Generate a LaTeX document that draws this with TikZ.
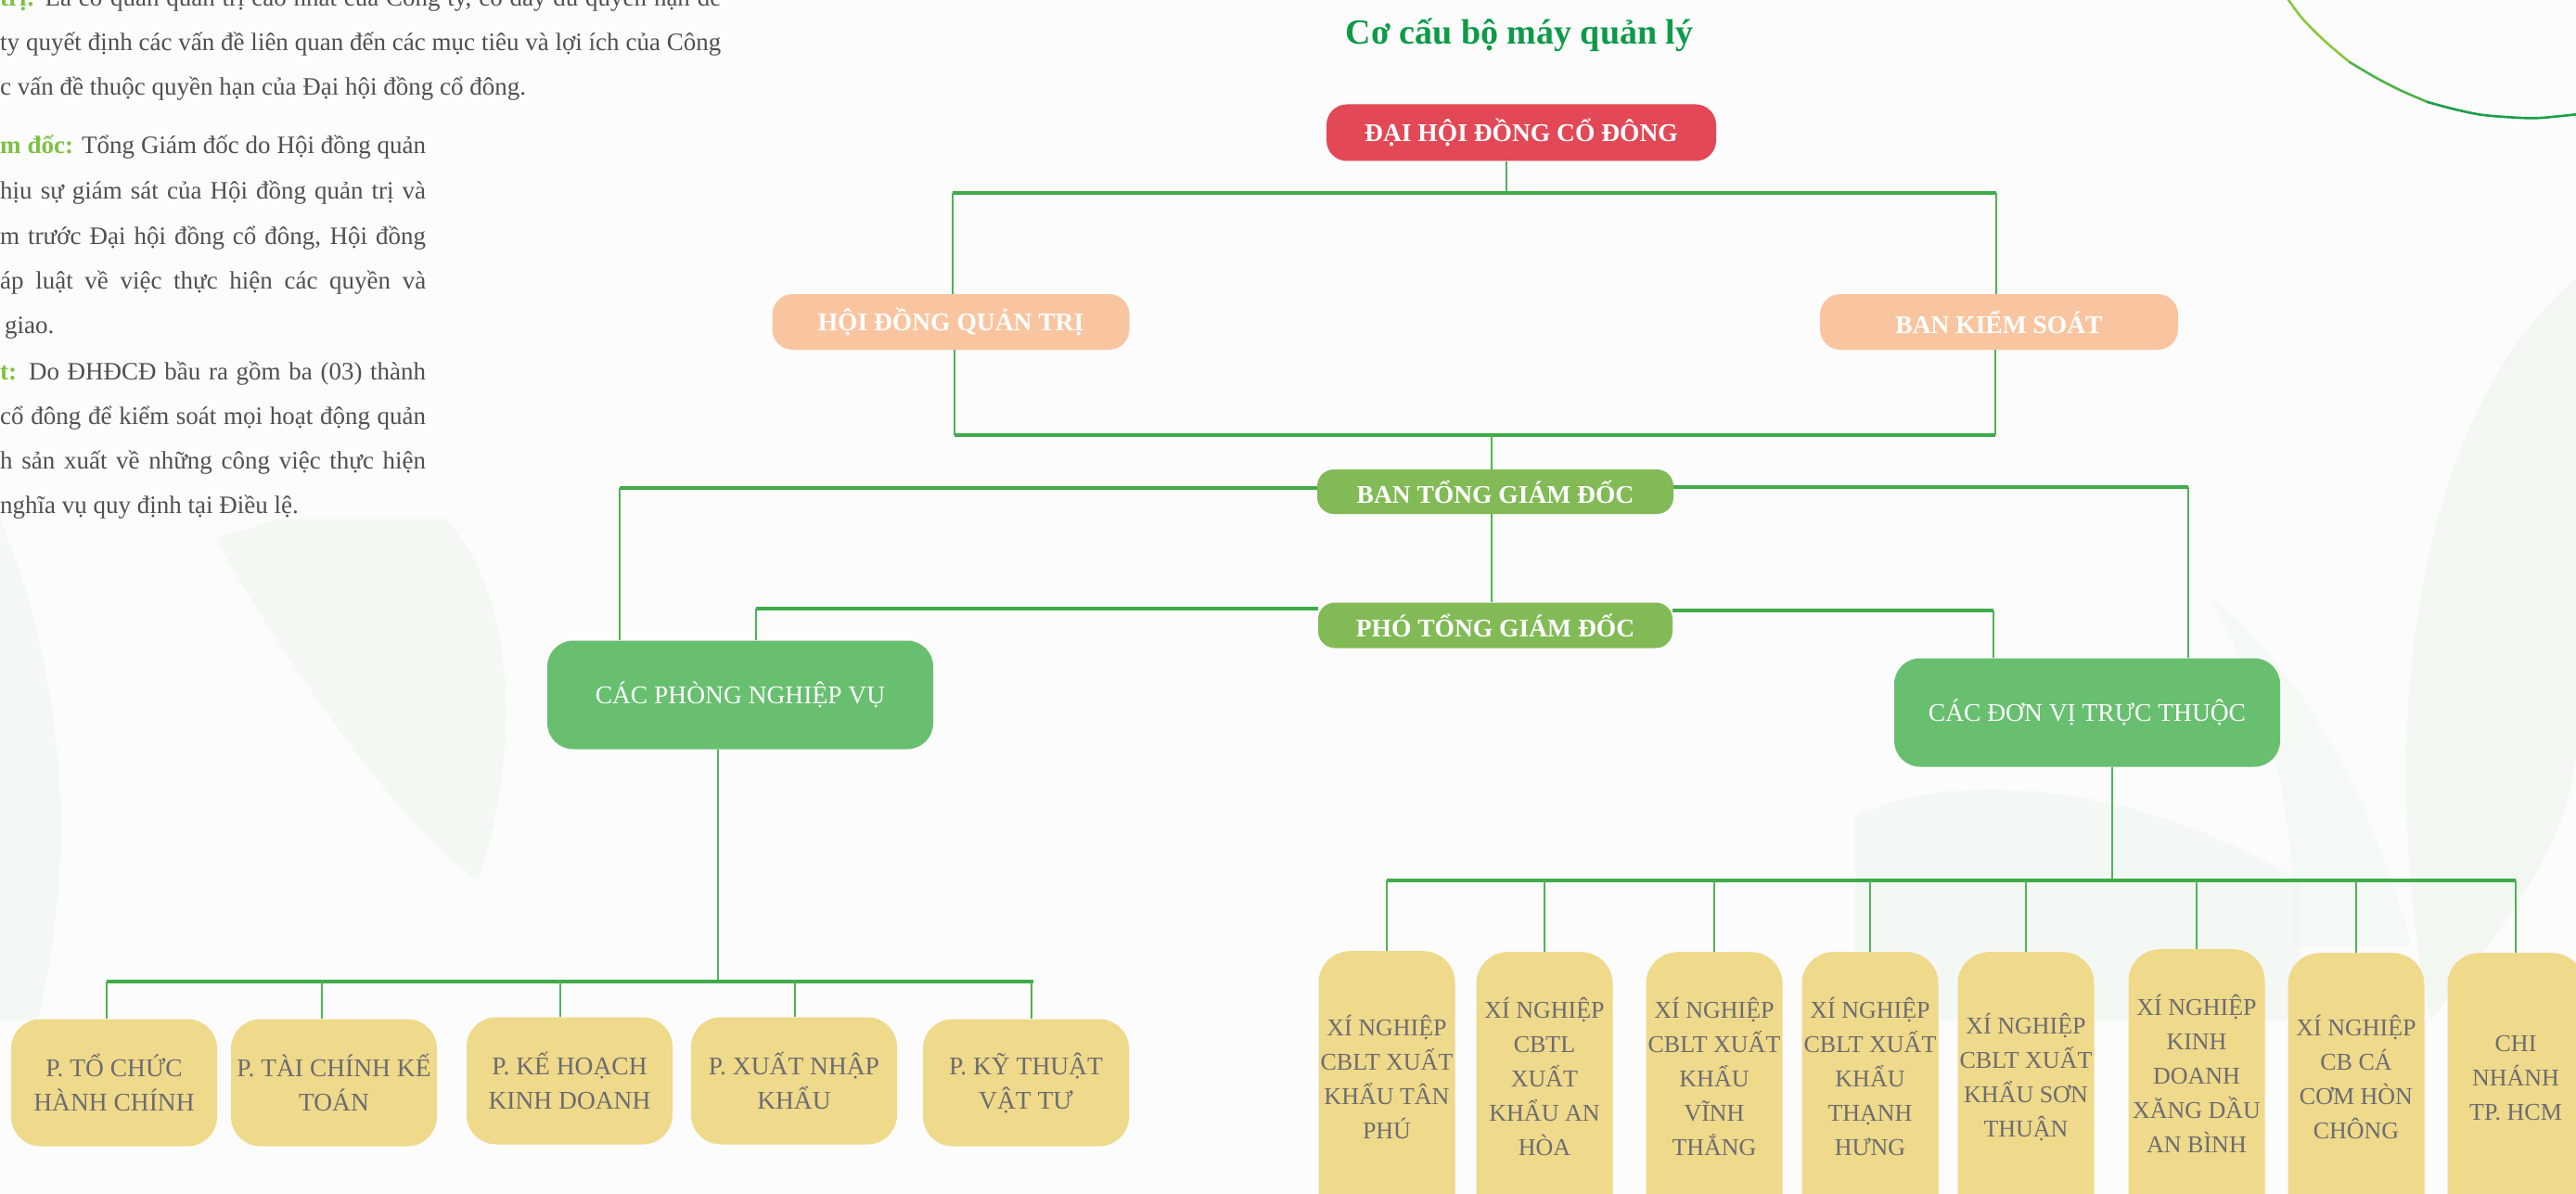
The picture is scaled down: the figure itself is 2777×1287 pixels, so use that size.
\documentclass[tikz,border=0pt]{standalone}
\usepackage{fontspec}
\setmainfont{Liberation Serif}
\usetikzlibrary{calc}
\definecolor{bgc}{HTML}{FBFCFB}
\definecolor{redc}{HTML}{E24856}
\definecolor{peach}{HTML}{F9C5A1}
\definecolor{olive}{HTML}{82BA56}
\definecolor{grn}{HTML}{68BF70}
\definecolor{yel}{HTML}{EFD98A}
\definecolor{gtext}{HTML}{6C6D70}
\definecolor{lnc}{HTML}{3FAB4A}
\definecolor{lnv}{HTML}{4DB555}
\definecolor{ttl}{HTML}{0E9A48}
\definecolor{lbl}{HTML}{7DC142}
\definecolor{ptxt}{HTML}{505050}
\definecolor{leaf}{HTML}{EDF5EC}
\definecolor{arcA}{HTML}{8DC63F}
\definecolor{arcB}{HTML}{4DB348}
\definecolor{arcC}{HTML}{1C9E4A}
\begin{document}
\begin{tikzpicture}[x=1pt,y=-1pt,
  topbox/.style={inner sep=0pt, align=center, text=white, font=\fontsize{27.5pt}{33pt}\selectfont\bfseries},
  midbox/.style={inner sep=0pt, align=center, text=white, fill=grn, rounded corners=28pt,
     minimum width=416pt, minimum height=117pt, font=\fontsize{27.5pt}{33pt}\selectfont},
  pbox/.style={inner sep=0pt, align=center, text=gtext, fill=yel, rounded corners=32pt,
     minimum width=222pt, minimum height=137pt, font=\fontsize{27.5pt}{37pt}\selectfont},
  xbox/.style={inner sep=0pt, fill=yel, rounded corners=34pt, anchor=north,
     minimum width=147pt, minimum height=330pt},
  xtxt/.style={inner sep=0pt, align=center, text=gtext, font=\fontsize{26pt}{37pt}\selectfont},
  ptext/.style={anchor=base west, inner sep=0pt, text=ptxt, font=\fontsize{27pt}{30pt}\selectfont},
  hl/.style={draw=lnc, line width=3.2pt},
  vl/.style={draw=lnv, line width=2pt}
]
\useasboundingbox (0,0) rectangle (2777,1287);
\clip (0,0) rectangle (2777,1287);
\fill[bgc] (0,0) rectangle (2777,1287);

% faint background leaves
\fill[leaf, opacity=0.55] (232,580) .. controls (300,700) and (420,880) .. (515,950)
   .. controls (560,820) and (560,640) .. (480,560) -- (300,560) -- cycle;
\fill[leaf, opacity=0.45] (0,560) .. controls (60,700) and (90,900) .. (40,1100) -- (0,1100) -- cycle;
\fill[leaf, opacity=0.6] (2777,300) .. controls (2600,450) and (2560,800) .. (2620,1100)
   .. controls (2700,1000) and (2777,900) .. (2777,800) -- cycle;
\fill[leaf, opacity=0.45] (2000,880) .. controls (2100,830) and (2300,840) .. (2480,950)
   -- (2480,1100) -- (2000,1100) -- cycle;
\fill[leaf, opacity=0.4] (2380,640) .. controls (2450,760) and (2480,900) .. (2470,1020)
   -- (2600,1020) .. controls (2560,880) and (2500,740) .. (2380,640) -- cycle;

% top-right arc
\draw[arcA, line width=2.6pt, line cap=round] plot[smooth] coordinates {(2465,-3) (2482,20) (2507,45) (2533,67)};
\draw[arcB, line width=2.6pt, line cap=round] plot[smooth] coordinates {(2533,67) (2560,83) (2587,97) (2617,110)};
\draw[arcC, line width=2.6pt, line cap=round] plot[smooth] coordinates {(2617,110) (2647,118) (2677,124) (2717,127) (2740,127) (2780,123)};

% left paragraphs
\node[ptext] (t1) at (0,7) {\makebox[777pt][s]{\textcolor{lbl}{\bfseries trị:} Là cơ quan quản trị cao nhất của Công ty, có đầy đủ quyền hạn để}};
\node[ptext] (t2) at (0,55) {\makebox[777pt][s]{ty quyết định các vấn đề liên quan đến các mục tiêu và lợi ích của Công}};
\node[ptext] (t3) at (0,103) {c vấn đề thuộc quyền hạn của Đại hội đồng cổ đông.};
\node[ptext] (t4) at (0,166) {\makebox[459pt][s]{\textcolor{lbl}{\bfseries m đốc:} Tổng Giám đốc do Hội đồng quản}};
\node[ptext] (t5) at (0,214) {\makebox[459pt][s]{hịu sự giám sát của Hội đồng quản trị và}};
\node[ptext] (t6) at (0,263) {\makebox[459pt][s]{m trước Đại hội đồng cổ đông, Hội đồng}};
\node[ptext] (t7) at (0,311) {\makebox[459pt][s]{áp luật về việc thực hiện các quyền và}};
\node[ptext] (t8) at (5,359) {giao.};
\node[ptext] (t9) at (0,409) {\makebox[459pt][s]{\textcolor{lbl}{\bfseries t:} Do ĐHĐCĐ bầu ra gồm ba (03) thành}};
\node[ptext] (t10) at (0,457) {\makebox[459pt][s]{cổ đông để kiểm soát mọi hoạt động quản}};
\node[ptext] (t11) at (0,505) {\makebox[459pt][s]{h sản xuất về những công việc thực hiện}};
\node[ptext] (t12) at (0,553) {nghĩa vụ quy định tại Điều lệ.};

% title
\node[anchor=base, inner sep=0pt, text=ttl, font=\fontsize{38pt}{42pt}\selectfont\bfseries] (title) at (1638,48) {Cơ cấu bộ máy quản lý};

% top-level boxes
\node[topbox, fill=redc, rounded corners=22pt, minimum width=420pt, minimum height=61pt] (dh) at (1640,143) {ĐẠI HỘI ĐỒNG CỔ ĐÔNG};
\node[topbox, fill=peach, rounded corners=22pt, minimum width=385pt, minimum height=60pt] (hd) at (1025,347) {HỘI ĐỒNG QUẢN TRỊ};
\node[topbox, fill=peach, rounded corners=22pt, minimum width=386pt, minimum height=60pt] (bks) at (2155,347) {BAN KIỂM SOÁT};
\node[topbox, fill=olive, rounded corners=18pt, minimum width=384pt, minimum height=48pt] (btgd) at (1612,530) {BAN TỔNG GIÁM ĐỐC};
\node[topbox, fill=olive, rounded corners=18pt, minimum width=382pt, minimum height=49pt] (ptgd) at (1612,674) {PHÓ TỔNG GIÁM ĐỐC};
\node[midbox] (cpnv) at (798,749) {CÁC PHÒNG NGHIỆP VỤ};
\node[midbox] (cdv) at (2250,768) {CÁC ĐƠN VỊ TRỰC THUỘC};

% departments
\node[pbox] (p1) at (123,1167) {P. TỔ CHỨC\\HÀNH CHÍNH};
\node[pbox] (p2) at (360,1167) {P. TÀI CHÍNH KẾ\\TOÁN};
\node[pbox] (p3) at (614,1165) {P. KẾ HOẠCH\\KINH DOANH};
\node[pbox] (p4) at (856,1165) {P. XUẤT NHẬP\\KHẨU};
\node[pbox] (p5) at (1106,1167) {P. KỸ THUẬT\\VẬT TƯ};

% units
\node[xbox] (x1) at (1495,1025) {};
\node[xbox] (x2) at (1665,1026) {};
\node[xbox] (x3) at (1848,1026) {};
\node[xbox] (x4) at (2016,1026) {};
\node[xbox] (x5) at (2184,1026) {};
\node[xbox] (x6) at (2368,1023) {};
\node[xbox] (x7) at (2540,1027) {};
\node[xbox] (x8) at (2712,1027) {};
\node[xtxt] (x1t) at (1495,1161) {XÍ NGHIỆP\\CBLT XUẤT\\KHẨU TÂN\\PHÚ};
\node[xtxt] (x2t) at (1665,1160) {XÍ NGHIỆP\\CBTL\\XUẤT\\KHẨU AN\\HÒA};
\node[xtxt] (x3t) at (1848,1160) {XÍ NGHIỆP\\CBLT XUẤT\\KHẨU\\VĨNH\\THẮNG};
\node[xtxt] (x4t) at (2016,1160) {XÍ NGHIỆP\\CBLT XUẤT\\KHẨU\\THẠNH\\HƯNG};
\node[xtxt] (x5t) at (2184,1161) {XÍ NGHIỆP\\CBLT XUẤT\\KHẨU SƠN\\THUẬN};
\node[xtxt] (x6t) at (2368,1157) {XÍ NGHIỆP\\KINH\\DOANH\\XĂNG DẦU\\AN BÌNH};
\node[xtxt] (x7t) at (2540,1161) {XÍ NGHIỆP\\CB CÁ\\CƠM HÒN\\CHÔNG};
\node[xtxt] (x8t) at (2712,1162) {CHI\\NHÁNH\\TP. HCM};

% junction coordinates
\coordinate (j1) at (1624,208);
\coordinate (jL1) at (1027,208);
\coordinate (jR1) at (2152,208);
\coordinate (jL2) at (1029,469);
\coordinate (jR2) at (2151,469);
\coordinate (j2) at (1608,469);
\coordinate (jA) at (668,526);
\coordinate (jB) at (2359,525);
\coordinate (jC) at (815,656);
\coordinate (jD) at (2149,658);
\coordinate (jE) at (774,1058);
\coordinate (jPL) at (115,1058);
\coordinate (jPR) at (1114,1058);
\coordinate (jF) at (2277,949);
\coordinate (jXL) at (1495,949);
\coordinate (jXR) at (2712,949);

% connectors: top
\draw[vl] (dh.south -| j1) -- (j1);
\draw[hl] (jL1) -- (jR1);
\draw[vl] (jL1) -- (jL1 |- hd.north);
\draw[vl] (jR1) -- (jR1 |- bks.north);
\draw[vl] (hd.south -| jL2) -- (jL2);
\draw[vl] (bks.south -| jR2) -- (jR2);
\draw[hl] (jL2) -- (jR2);
\draw[vl] (j2) -- (j2 |- btgd.north);
\draw[vl] (btgd.south -| j2) -- (j2 |- ptgd.north);
% directors to groups
\draw[hl] (jA -| btgd.west) -- (jA);
\draw[vl] (jA) -- (jA |- cpnv.north);
\draw[hl] (jB -| btgd.east) -- (jB);
\draw[vl] (jB) -- (jB |- cdv.north);
\draw[hl] (jC -| ptgd.west) -- (jC);
\draw[vl] (jC) -- (jC |- cpnv.north);
\draw[hl] (jD -| ptgd.east) -- (jD);
\draw[vl] (jD) -- (jD |- cdv.north);
% departments
\draw[vl] (cpnv.south -| jE) -- (jE);
\draw[hl] (jPL) -- (jPR);
\draw[vl] ([xshift=-8pt]p1.north) -- ([xshift=-8pt]p1.north |- jPL);
\draw[vl] ([xshift=-13pt]p2.north) -- ([xshift=-13pt]p2.north |- jPL);
\draw[vl] ([xshift=-10pt]p3.north) -- ([xshift=-10pt]p3.north |- jPL);
\draw[vl] ([xshift=1pt]p4.north) -- ([xshift=1pt]p4.north |- jPL);
\draw[vl] ([xshift=6pt]p5.north) -- ([xshift=6pt]p5.north |- jPL);
% units
\draw[vl] (cdv.south -| jF) -- (jF);
\draw[hl] (jXL) -- (jXR);
\foreach \n in {x1,x2,x3,x4,x5,x6,x7,x8} {
  \draw[vl] (\n.north) -- (\n.north |- jF);
}
\end{tikzpicture}
\end{document}
